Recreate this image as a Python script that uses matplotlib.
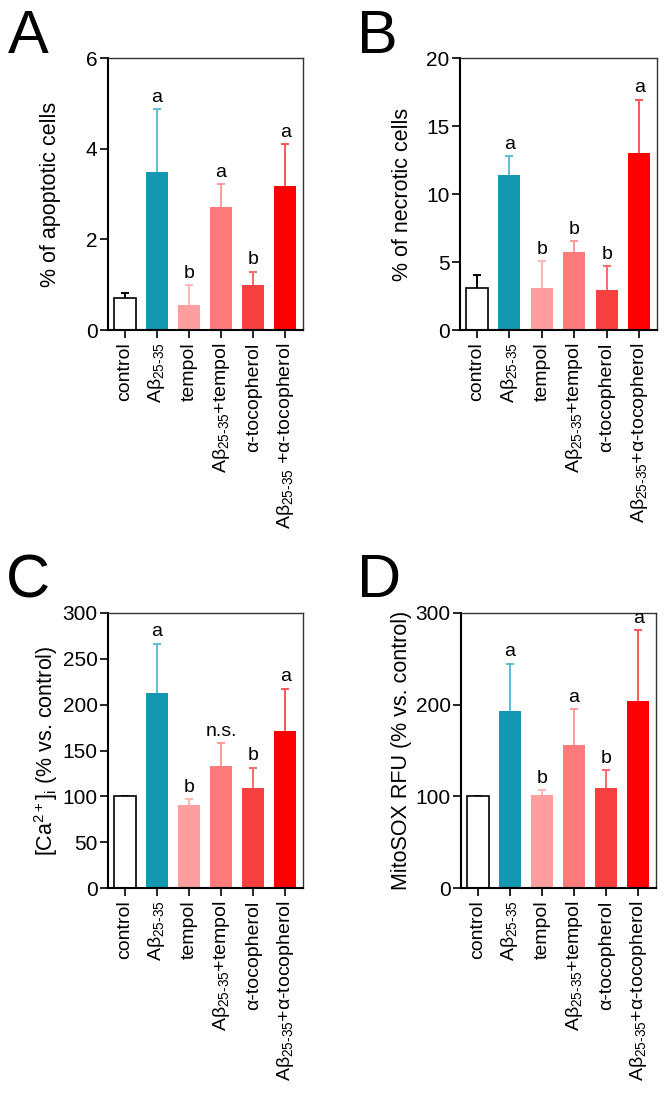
import matplotlib
matplotlib.use("Agg")
import matplotlib.pyplot as plt

plt.rcParams["font.family"] = ["Liberation Sans", "DejaVu Sans"]
plt.rcParams["mathtext.fontset"] = "custom"
plt.rcParams["mathtext.rm"] = "Liberation Sans"
plt.rcParams["mathtext.it"] = "Liberation Sans:italic"

AB = "A\u03b2$_{\\mathregular{25\u201035}}$"
groups = ["control", AB, "tempol", AB + "+tempol", "\u03b1-tocopherol",
          AB + "+\u03b1-tocopherol"]
groups_a = groups[:5] + [AB + " +\u03b1-tocopherol"]

bar_colors = ["white", "#1497b0", "#ff9e9e", "#ff7b7b", "#f63f3f", "#ff0000"]
err_colors = ["black", "#5bbfd2", "#ffb4b4", "#ff9a9a", "#f86a6a", "#ff5555"]

# panel A: % apoptotic cells
apo_mean = [0.71, 3.49, 0.55, 2.71, 0.99, 3.18]
apo_err = [0.10, 1.39, 0.44, 0.51, 0.30, 0.92]
apo_sig = ["", "a", "b", "a", "b", "a"]

# panel B: % necrotic cells
nec_mean = [3.06, 11.38, 3.06, 5.76, 2.95, 13.04]
nec_err = [1.00, 1.41, 2.02, 0.79, 1.77, 3.90]
nec_sig = ["", "a", "b", "b", "b", "a"]

# panel C: [Ca2+]i
ca_mean = [100.0, 212.7, 90.1, 133.6, 108.6, 171.6]
ca_err = [0.6, 53.7, 6.8, 24.6, 22.6, 45.9]
ca_sig = ["", "a", "b", "n.s.", "b", "a"]

# panel D: MitoSOX RFU
mito_mean = [100.0, 193.5, 101.0, 156.1, 109.2, 203.7]
mito_err = [0.8, 51.4, 5.5, 38.8, 19.0, 77.9]
mito_sig = ["", "a", "b", "a", "b", "a"]

W, H = 664, 1113
fig = plt.figure(figsize=(W / 100, H / 100), dpi=100)


def panel(rect, mean, err, sig, ymax, yticks, ylabel, labels, letter, lpos, lab_x):
    x0, y0, x1, y1 = rect
    ax = fig.add_axes([x0 / W, 1 - y1 / H, (x1 - x0) / W, (y1 - y0) / H])
    x = range(len(mean))
    for i in x:
        ax.bar(i, mean[i], width=0.68, color=bar_colors[i],
               edgecolor="black" if i == 0 else bar_colors[i],
               linewidth=1.2 if i == 0 else 0, zorder=2)
        eb = ax.errorbar(i, mean[i], yerr=[[0], [err[i]]], fmt="none",
                         ecolor=err_colors[i], elinewidth=1.4, capsize=3,
                         capthick=1.4, zorder=1)
        eb[1][0].set_visible(False)  # no cap at bar top
        if sig[i]:
            ax.text(i, mean[i] + err[i] + ymax * 0.012, sig[i],
                    ha="center", va="bottom", fontsize=14)
    ax.set_xlim(-0.52, 5.55)
    ax.set_ylim(0, ymax)
    ax.set_yticks(yticks)
    ax.set_xticks(list(x))
    ax.set_xticklabels(labels, rotation=90, fontsize=14)
    ax.tick_params(axis="y", labelsize=15, length=5.5, width=1.2,
                   direction="out", pad=2)
    ax.tick_params(axis="x", length=5.5, width=1.2, direction="out", pad=3.5)
    for s in ["left", "bottom"]:
        ax.spines[s].set_linewidth(1.5)
    for s in ["top", "right"]:
        ax.spines[s].set_linewidth(1.0)
        ax.spines[s].set_color("#333333")
    ax.set_ylabel(ylabel, fontsize=15.5)
    ax.yaxis.set_label_coords(lab_x, 0.5)
    fig.text(lpos[0] / W, 1 - lpos[1] / H, letter, fontsize=44,
             va="baseline", ha="left")
    return ax


panel((108, 58, 303, 330), apo_mean, apo_err, apo_sig, 6, [0, 2, 4, 6],
      "% of apoptotic cells", groups_a, "A", (8, 53), -0.24)
panel((460, 58, 657, 330), nec_mean, nec_err, nec_sig, 20, [0, 5, 10, 15, 20],
      "% of necrotic cells", groups, "B", (357, 53), -0.24)
panel((108, 613, 303, 888), ca_mean, ca_err, ca_sig, 300,
      [0, 50, 100, 150, 200, 250, 300],
      "[Ca$^{\\mathregular{2+}}$]$_{\\mathregular{i}}$ (% vs. control)",
      groups, "C", (6, 597), -0.245)
panel((461, 613, 656, 888), mito_mean, mito_err, mito_sig, 300,
      [0, 100, 200, 300], "MitoSOX RFU (% vs. control)", groups, "D",
      (357, 597), -0.25)

fig.savefig("out.png", dpi=100)
